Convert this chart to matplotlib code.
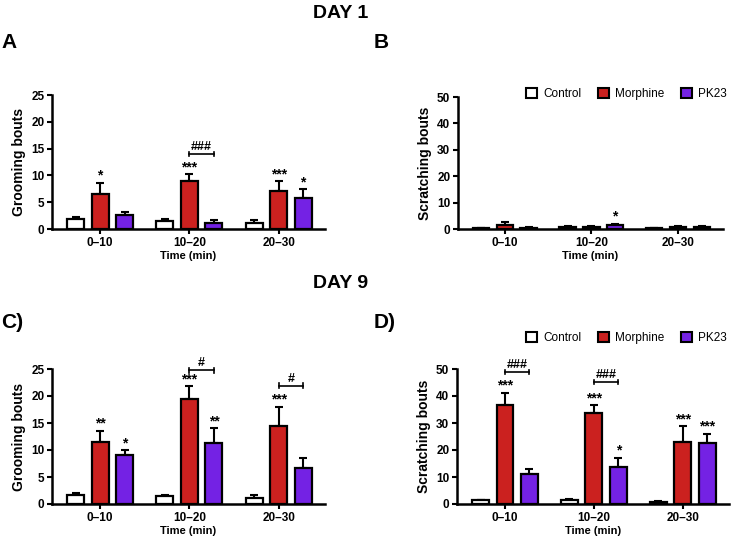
import matplotlib
matplotlib.use("Agg")
import matplotlib.pyplot as plt
from matplotlib.patches import Patch
import numpy as np

plt.rcParams['font.family'] = ['Liberation Sans', 'DejaVu Sans']
plt.rcParams['font.weight'] = 'bold'

# ---------------- data ----------------
groups = ['0–10', '10–20', '20–30']
series = ['Control', 'Morphine', 'PK23']
colors = ['#FFFFFF', '#CB211F', '#7422E4']

# Day 1 grooming (A)
groomD1_control = [1.8, 1.4, 1.2]
groomD1_control_err = [0.5, 0.4, 0.4]
groomD1_morphine = [6.5, 8.9, 7.0]
groomD1_morphine_err = [2.1, 1.3, 1.9]
groomD1_pk23 = [2.7, 1.2, 5.8]
groomD1_pk23_err = [0.5, 0.4, 1.6]

# Day 1 scratching (B)
scratD1_control = [0.3, 0.7, 0.2]
scratD1_control_err = [0.2, 0.3, 0.2]
scratD1_morphine = [1.6, 0.7, 0.6]
scratD1_morphine_err = [1.2, 0.5, 0.5]
scratD1_pk23 = [0.4, 1.5, 0.6]
scratD1_pk23_err = [0.2, 0.5, 0.4]

# Day 9 grooming (C)
groomD9_control = [1.7, 1.5, 1.1]
groomD9_control_err = [0.3, 0.2, 0.5]
groomD9_morphine = [11.5, 19.5, 14.5]
groomD9_morphine_err = [2.1, 2.3, 3.5]
groomD9_pk23 = [9.0, 11.3, 6.7]
groomD9_pk23_err = [1.0, 2.7, 1.8]

# Day 9 scratching (D)
scratD9_control = [1.3, 1.5, 0.8]
scratD9_control_err = [0.3, 0.2, 0.3]
scratD9_morphine = [36.7, 33.8, 23.0]
scratD9_morphine_err = [4.5, 2.8, 5.8]
scratD9_pk23 = [11.0, 13.8, 22.6]
scratD9_pk23_err = [2.0, 3.3, 3.4]

# significance marks: (group, series, text)
starsA = [(0, 1, '*'), (1, 1, '***'), (2, 1, '***'), (2, 2, '*')]
starsB = [(1, 2, '*')]
starsC = [(0, 1, '**'), (0, 2, '*'), (1, 1, '***'), (1, 2, '**'), (2, 1, '***')]
starsD = [(0, 1, '***'), (1, 1, '***'), (1, 2, '*'), (2, 1, '***'), (2, 2, '***')]
# brackets: (group, y, text)
bracketsA = [(1, 14.0, '###')]
bracketsB = []
bracketsC = [(1, 24.8, '#'), (2, 21.9, '#')]
bracketsD = [(0, 48.9, '###'), (1, 45.2, '###')]

# ---------------- drawing ----------------
W, H = 731, 538
fig = plt.figure(figsize=(W / 100, H / 100), dpi=100)

def ax_at(l, r, t, b):
    return fig.add_axes([l / W, 1 - b / H, (r - l) / W, (b - t) / H])

offset = 0.275
width = 0.19
x = np.arange(len(groups))

def panel(ax, means, errs, ymax, step, ylabel, stars, brackets):
    for i, (m, e, c) in enumerate(zip(means, errs, colors)):
        pos = x + (i - 1) * offset
        ax.bar(pos, m, width, color=c, edgecolor='black', linewidth=1.6, zorder=2)
        ax.errorbar(pos, m, yerr=[np.zeros(len(m)), e], fmt='none', ecolor='black',
                    elinewidth=1.5, capsize=3.2, capthick=1.5, zorder=1)
    for g, s, t in stars:
        y = means[s][g] + errs[s][g]
        ax.text(g + (s - 1) * offset, y, t, ha='center', va='bottom', fontsize=10,
                fontweight='bold')
    for g, y, t in brackets:
        x0, x1 = g, g + offset
        ax.plot([x0, x1], [y, y], color='black', lw=1.2, clip_on=False)
        for xx in (x0, x1):
            ax.plot([xx, xx], [y - ymax * 0.018, y + ymax * 0.018], color='black', lw=1.2,
                    clip_on=False)
        ax.text((x0 + x1) / 2, y + ymax * 0.005, t, ha='center', va='bottom', fontsize=9,
                fontweight='bold')
    ax.set_ylim(0, ymax)
    ax.set_yticks(np.arange(0, ymax + 0.1, step))
    ax.set_xlim(-0.54, 2.52)
    ax.set_xticks(x)
    ax.set_xticklabels(groups)
    for sp in ['top', 'right']:
        ax.spines[sp].set_visible(False)
    for sp in ['left', 'bottom']:
        ax.spines[sp].set_linewidth(1.8)
    ax.tick_params(axis='both', width=1.5, length=3.5, labelsize=8.5, pad=2)
    ax.tick_params(axis='x', pad=2.5)
    for lab in ax.get_xticklabels() + ax.get_yticklabels():
        lab.set_fontweight('bold')
    ax.set_ylabel(ylabel, fontsize=10, fontweight='bold', labelpad=4)
    ax.set_xlabel('Time (min)', fontsize=8, fontweight='bold', labelpad=1)

axA = ax_at(52, 325, 95, 229)
axB = ax_at(458, 723, 97, 229)
axC = ax_at(52, 325, 369, 504)
axD = ax_at(457, 729, 369, 504)

panel(axA, [groomD1_control, groomD1_morphine, groomD1_pk23],
      [groomD1_control_err, groomD1_morphine_err, groomD1_pk23_err],
      25, 5, 'Grooming bouts', starsA, bracketsA)
panel(axB, [scratD1_control, scratD1_morphine, scratD1_pk23],
      [scratD1_control_err, scratD1_morphine_err, scratD1_pk23_err],
      50, 10, 'Scratching bouts', starsB, bracketsB)
panel(axC, [groomD9_control, groomD9_morphine, groomD9_pk23],
      [groomD9_control_err, groomD9_morphine_err, groomD9_pk23_err],
      25, 5, 'Grooming bouts', starsC, bracketsC)
panel(axD, [scratD9_control, scratD9_morphine, scratD9_pk23],
      [scratD9_control_err, scratD9_morphine_err, scratD9_pk23_err],
      50, 10, 'Scratching bouts', starsD, bracketsD)

handles = [Patch(facecolor=c, edgecolor='black', linewidth=1.5) for c in colors]
for yy in (94, 338):
    fig.legend(handles, series, loc='center right', bbox_to_anchor=(737 / W, 1 - yy / H),
               ncol=3, frameon=False, handlelength=0.9, handleheight=0.9,
               handletextpad=0.5, columnspacing=1.45,
               prop={'family': 'Liberation Sans', 'weight': 'normal', 'size': 8.5})

fig.text(341 / W, 1 - 14 / H, 'DAY 1', ha='center', va='center', fontsize=14,
         fontweight='bold')
fig.text(341 / W, 1 - 283 / H, 'DAY 9', ha='center', va='center', fontsize=14,
         fontweight='bold')
fig.text(1 / W, 1 - 42 / H, 'A', ha='left', va='center', fontsize=15, fontweight='bold')
fig.text(374 / W, 1 - 42 / H, 'B', ha='left', va='center', fontsize=15, fontweight='bold')
fig.text(1 / W, 1 - 323 / H, 'C)', ha='left', va='center', fontsize=15, fontweight='bold')
fig.text(374 / W, 1 - 323 / H, 'D)', ha='left', va='center', fontsize=15, fontweight='bold')

fig.savefig('out.png', dpi=100)
